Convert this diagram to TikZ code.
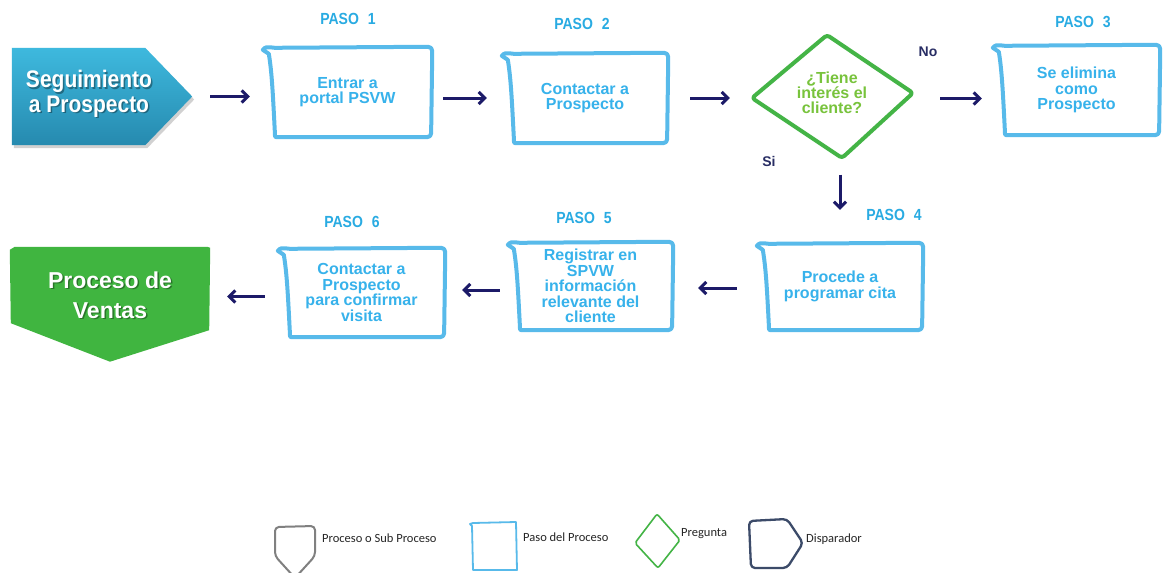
\documentclass[tikz,border=0pt]{standalone}
\usepackage{fontspec}
\setmainfont{Liberation Sans}
\newfontfamily\legfont{Carlito}
\usetikzlibrary{calc,arrows.meta,shapes.geometric}
\definecolor{stepblue}{RGB}{88,186,234}
\definecolor{pasoblue}{RGB}{41,171,226}
\definecolor{boxtext}{RGB}{55,178,235}
\definecolor{navy}{RGB}{28,26,104}
\definecolor{ventgreen}{RGB}{64,181,64}
\definecolor{qgreen}{RGB}{68,180,70}
\definecolor{qtext}{RGB}{120,195,60}
\definecolor{sttop}{RGB}{62,185,222}
\definecolor{stbot}{RGB}{38,138,175}
\definecolor{yesno}{RGB}{40,45,100}
\definecolor{legdark}{RGB}{60,75,105}
\tikzset{
  stepbox/.style={draw=none, inner sep=0pt, align=center, text=boxtext,
    font=\bfseries\fontsize{16}{15.5}\selectfont},
  hand/.style={draw=stepblue, line width=4pt, line join=round, line cap=round},
  flow/.style={draw=navy, line width=3pt, -{Straight Barb[length=6pt,width=12pt]}},
  pasolbl/.style={text=pasoblue, inner sep=0pt, font=\bfseries\fontsize{14}{14}\selectfont},
  yn/.style={text=yesno, inner sep=0pt, font=\bfseries\fontsize{14}{14}\selectfont},
  qtxt/.style={text=qtext, inner sep=0pt, align=center, font=\bfseries\fontsize{16}{15}\selectfont},
  bigwhite/.style={text=white, inner sep=0pt, align=center},
  bigshadow/.style={text=black, opacity=0.35, inner sep=0pt, align=center},
  legtxt/.style={text=black!85, inner sep=0pt, anchor=west, font=\legfont\fontsize{12.5}{13}\selectfont},
}
\newcommand\pasotxt[1]{\scalebox{1}[1.15]{PASO\hspace{9pt}#1}}
\newcommand\tallpair[2]{\scalebox{1}[1.14]{\begin{tabular}{@{}c@{}}#1\\#2\end{tabular}}}
\newcommand\drawhandbox[1]{%
  \draw[hand] ($(#1.north west)+(0,3)$) .. controls ($(#1.north west)+(3,0)$) .. ($(#1.north west)+(12,1)$)
   -- ($(#1.north east)+(-9,0)$) .. controls ($(#1.north east)+(0,0)$) .. ($(#1.north east)+(0,9)$)
   -- ($(#1.south east)+(-1,-9)$) .. controls ($(#1.south east)+(-1,0)$) .. ($(#1.south east)+(-10,0)$)
   -- ($(#1.south west)+(15,0)$) .. controls ($(#1.south west)+(12,0)$) .. ($(#1.south west)+(12,-6)$)
   .. controls ($(#1.south west)+(10,-45)$) and ($(#1.north west)+(9,25)$) .. ($(#1.north west)+(6,7)$)
   -- cycle;}
\begin{document}
\begin{tikzpicture}[x=1pt,y=-1pt]
\useasboundingbox (0,0) rectangle (1163,573);
\fill[white] (0,0) rectangle (1163,573);

% start shape
\node[inner sep=0pt, minimum width=133pt, minimum height=97pt] (s) at (78.5,96.5) {};
\coordinate (stip) at ($(s.east)+(47,0)$);
\fill[black, opacity=0.18] ($(s.north west)+(2,3)$) -- ($(s.north east)+(2,3)$) -- ($(stip)+(2,3)$) -- ($(s.south east)+(2,3)$) -- ($(s.south west)+(2,3)$) -- cycle;
\shade[top color=sttop, bottom color=stbot] (s.north west) -- (s.north east) -- (stip) -- (s.south east) -- (s.south west) -- cycle;
\node[bigshadow, font=\bfseries\fontsize{21}{21.5}\selectfont] (sts) at (90.5,96.5) {\tallpair{Seguimiento}{a Prospecto}};
\node[bigwhite, font=\bfseries\fontsize{21}{21.5}\selectfont] (st) at (89,95) {\tallpair{Seguimiento}{a Prospecto}};

% step boxes
\node[stepbox, minimum width=169pt, minimum height=90pt] (b1) at (347.5,92) {Entrar a\\portal PSVW};
\node[stepbox, minimum width=166pt, minimum height=90pt] (b2) at (585,98) {Contactar a\\Prospecto};
\node[stepbox, minimum width=167pt, minimum height=90pt] (b3) at (1076.5,90) {Se elimina\\como\\Prospecto};
\node[stepbox, minimum width=166pt, minimum height=87pt] (b4) at (840,286.5) {Procede a\\programar cita};
\node[stepbox, minimum width=165pt, minimum height=88pt] (b5) at (590.5,286) {Registrar en\\SPVW\\información\\relevante del\\cliente};
\node[stepbox, minimum width=167pt, minimum height=89pt] (b6) at (361.5,292.5) {Contactar a\\Prospecto\\para confirmar\\visita};
\drawhandbox{b1}
\drawhandbox{b2}
\drawhandbox{b3}
\drawhandbox{b4}
\drawhandbox{b5}
\drawhandbox{b6}

% paso labels
\node[pasolbl] (p1) at (348,19) {\pasotxt{1}};
\node[pasolbl] (p2) at (582,24) {\pasotxt{2}};
\node[pasolbl] (p3) at (1083,22) {\pasotxt{3}};
\node[pasolbl] (p4) at (894,215) {\pasotxt{4}};
\node[pasolbl] (p5) at (584,218) {\pasotxt{5}};
\node[pasolbl] (p6) at (352,222) {\pasotxt{6}};

% decision
\node[diamond, draw=none, inner sep=0pt, minimum width=162pt, minimum height=124pt] (q) at (833,96.5) {};
\draw[draw=qgreen, line width=4pt, line join=round, rounded corners=3pt]
  ($(q)+(-81,1.5)$) -- ($(q)+(-6,-61.5)$) -- ($(q)+(80,-3.5)$) -- ($(q)+(9,61.5)$) -- cycle;
\node[qtxt] (qt) at ($(q)+(-1,-4)$) {¿Tiene\\interés el\\cliente?};
\node[yn] (no) at (928,52) {No};
\node[yn] (si) at (769,161) {Si};

% final green shape
\node[inner sep=0pt, minimum width=200pt, minimum height=83pt] (g) at (110,288.5) {};
\fill[ventgreen] ($(g.north west)+(0,3)$) -- ($(g.north west)+(5,0)$) -- ($(g.north east)+(-3,0)$) -- ($(g.north east)+(0,1)$)
  -- ($(g.south east)+(-1,0)$) -- ($(g.south)+(0,31.5)$) -- ($(g.south west)+(1,-7)$) -- cycle;
\node[bigshadow, font=\bfseries\fontsize{23}{30}\selectfont] (gts) at (111.5,296.5) {Proceso de\\Ventas};
\node[bigwhite, font=\bfseries\fontsize{23}{30}\selectfont] (gt) at (110,295) {Proceso de\\Ventas};

% connectors
\draw[flow, shorten <=18pt, shorten >=13pt] (stip) -- (stip -| b1.west);
\draw[flow, shorten <=11pt, shorten >=15pt] (b1.east |- b2) -- (b2.west);
\draw[flow, shorten <=22pt, shorten >=22pt] (b2.east) -- (b2.east -| q.west);
\draw[flow, shorten <=26pt, shorten >=11pt] ($(q.east)+(0,2)$) -- ($(q.east -| b3.west)+(0,2)$);
\draw[flow, shorten <=16pt, shorten >=33pt] (q.south -| b4) -- (b4.north);
\draw[flow, shorten <=20pt, shorten >=25pt] ($(b4.west)+(0,1.5)$) -- ($(b4.west -| b5.east)+(0,1.5)$);
\draw[flow, shorten <=8pt, shorten >=17pt] ($(b5.west)+(0,4)$) -- ($(b5.west -| b6.east)+(0,4)$);
\draw[flow, shorten <=13pt, shorten >=17pt] ($(b6.west)+(0,4)$) -- ($(b6.west -| g.east)+(0,4)$);

% legend
\draw[gray, line width=2pt, line join=round, rounded corners=4pt]
  (275,556) -- (275,527) -- (315,526) -- (315,556) -- (295,578) -- cycle;
\node[legtxt] (l1) at (322,538) {Proceso o Sub Proceso};
\draw[stepblue, line width=1.8pt, line join=round]
  (470,524) -- (473,523) -- (516,522) -- (517,570) -- (473,570) -- (472,526) -- cycle;
\node[legtxt] (l2) at (523,537) {Paso del Proceso};
\draw[qgreen, line width=1.6pt, line join=round, rounded corners=2pt]
  (635,543) -- (657,514) -- (680,540) -- (658,568) -- cycle;
\node[legtxt] (l3) at (681,534) {Pregunta};
\draw[legdark, line width=2.3pt, line join=round, rounded corners=4pt]
  (749,521) -- (787,519) -- (803,543) -- (787,568) -- (751,568) -- cycle;
\node[legtxt] (l4) at (806,539) {Disparador};
\end{tikzpicture}
\end{document}
